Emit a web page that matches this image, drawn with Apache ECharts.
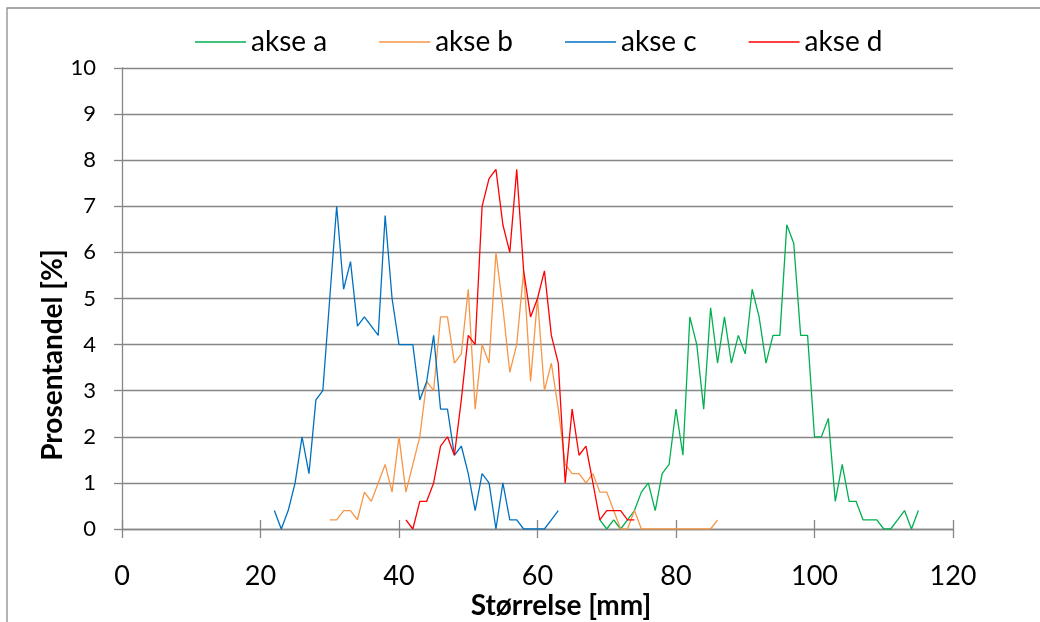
<!DOCTYPE html>
<html>
<head>
<meta charset="utf-8">
<script src="https://cdn.jsdelivr.net/npm/echarts@6/dist/echarts.min.js"></script>
<style>
  html, body { margin: 0; padding: 0; background: #fff; }
  #chart { width: 1040px; height: 622px; }
</style>
</head>
<body>
<div id="chart"></div>
<script>
// Size distributions (percentage per mm class) for four axes.
const FONT = "Lato, 'Open Sans', 'Liberation Sans', sans-serif";

const seriesNames = ['akse a', 'akse b', 'akse c', 'akse d'];
const seriesColors = ['#00B050', '#F79646', '#0070C0', '#FF0000'];

// akse a: sizes 69..115 mm
const startA = 69;
const akseA = [0.2, 0, 0.2, 0, 0.2, 0.4, 0.8, 1.0, 0.4, 1.2, 1.4, 2.6, 1.6, 4.6, 4.0, 2.6, 4.8, 3.6, 4.6, 3.6,
               4.2, 3.8, 5.2, 4.6, 3.6, 4.2, 4.2, 6.6, 6.2, 4.2, 4.2, 2.0, 2.0, 2.4, 0.6, 1.4, 0.6, 0.6, 0.2, 0.2,
               0.2, 0, 0, 0.2, 0.4, 0, 0.4];

// akse b: sizes 30..86 mm
const startB = 30;
const akseB = [0.2, 0.2, 0.4, 0.4, 0.2, 0.8, 0.6, 1.0, 1.4, 0.8, 2.0, 0.8, 1.4, 2.0, 3.2, 3.0, 4.6, 4.6, 3.6, 3.8,
               5.2, 2.6, 4.0, 3.6, 6.0, 4.8, 3.4, 4.0, 5.6, 3.2, 5.0, 3.0, 3.6, 2.6, 1.4, 1.2, 1.2, 1.0, 1.2, 0.8,
               0.8, 0.4, 0, 0, 0.4, 0, 0, 0, 0, 0, 0, 0, 0, 0, 0, 0, 0.2];

// akse c: sizes 22..63 mm
const startC = 22;
const akseC = [0.4, 0, 0.4, 1.0, 2.0, 1.2, 2.8, 3.0, 5.0, 7.0, 5.2, 5.8, 4.4, 4.6, 4.4, 4.2, 6.8, 5.0, 4.0, 4.0,
               4.0, 2.8, 3.2, 4.2, 2.6, 2.6, 1.6, 1.8, 1.2, 0.4, 1.2, 1.0, 0, 1.0, 0.2, 0.2, 0, 0, 0, 0,
               0.2, 0.4];

// akse d: sizes 41..74 mm
const startD = 41;
const akseD = [0.2, 0, 0.6, 0.6, 1.0, 1.8, 2.0, 1.6, 2.8, 4.2, 4.0, 7.0, 7.6, 7.8, 6.6, 6.0, 7.8, 5.6, 4.6, 5.0,
               5.6, 4.2, 3.6, 1.0, 2.6, 1.6, 1.8, 1.0, 0.2, 0.4, 0.4, 0.4, 0.2, 0.2];

const xAxisTitle = 'Størrelse [mm]';
const yAxisTitle = 'Prosentandel [%]';

const starts = [startA, startB, startC, startD];
const values = [akseA, akseB, akseC, akseD];

const gridColor = '#868686';

const chart = echarts.init(document.getElementById('chart'), null, { renderer: 'canvas' });

const option = {
  animation: false,
  backgroundColor: '#fff',
  textStyle: { fontFamily: FONT },
  grid: { left: 122, right: 87, top: 68, bottom: 93 },
  legend: {
    data: seriesNames,
    left: 190,
    top: 23,
    icon: 'rect',
    itemWidth: 51,
    itemHeight: 1.6,
    itemGap: 52,
    textStyle: { fontSize: 28, color: '#000', fontFamily: FONT }
  },
  xAxis: [
    {
      type: 'value', min: 0, max: 120, interval: 20,
      axisLine: { show: true, onZero: false, lineStyle: { color: gridColor, width: 1.3 } },
      axisTick: { show: true, length: 9, lineStyle: { color: gridColor, width: 1.3 } },
      axisLabel: { margin: 34, fontSize: 27, color: '#000', fontFamily: FONT },
      splitLine: { show: false }
    },
    {
      // inner half of the cross ticks
      type: 'value', min: 0, max: 120, interval: 20, position: 'bottom',
      axisLine: { show: false },
      axisTick: { show: true, inside: true, length: 9, lineStyle: { color: gridColor, width: 1.3 } },
      axisLabel: { show: false },
      splitLine: { show: false }
    }
  ],
  yAxis: {
    type: 'value', min: 0, max: 10, interval: 1,
    axisLine: { show: true, lineStyle: { color: gridColor, width: 1.3 } },
    axisTick: { show: true, length: 8, lineStyle: { color: gridColor, width: 1.3 } },
    axisLabel: { margin: 26, fontSize: 22, color: '#000', fontFamily: FONT },
    splitLine: { show: true, lineStyle: { color: gridColor, width: 1.4 } }
  },
  series: seriesNames.map((name, k) => ({
    name: name,
    type: 'line',
    xAxisIndex: 0,
    symbol: 'none',
    showSymbol: false,
    color: seriesColors[k],
    lineStyle: { width: 1.3, color: seriesColors[k] },
    data: values[k].map((v, i) => [starts[k] + i, v])
  })),
  graphic: [
    {
      type: 'rect', silent: true, z: -10,
      shape: { x: 7, y: 8, width: 1100, height: 700 },
      style: { fill: 'none', stroke: '#8c8c8c', lineWidth: 1.3 }
    },
    {
      type: 'text', silent: true,
      x: 53, y: 355, rotation: Math.PI / 2,
      style: {
        text: yAxisTitle, fill: '#000',
        font: 'bold 28px ' + FONT,
        align: 'center', verticalAlign: 'middle',
        textAlign: 'center', textVerticalAlign: 'middle'
      }
    },
    {
      type: 'text', silent: true,
      x: 561, y: 606,
      style: {
        text: xAxisTitle, fill: '#000',
        font: 'bold 28px ' + FONT,
        align: 'center', verticalAlign: 'middle',
        textAlign: 'center', textVerticalAlign: 'middle'
      }
    }
  ]
};

chart.setOption(option);
</script>
</body>
</html>
